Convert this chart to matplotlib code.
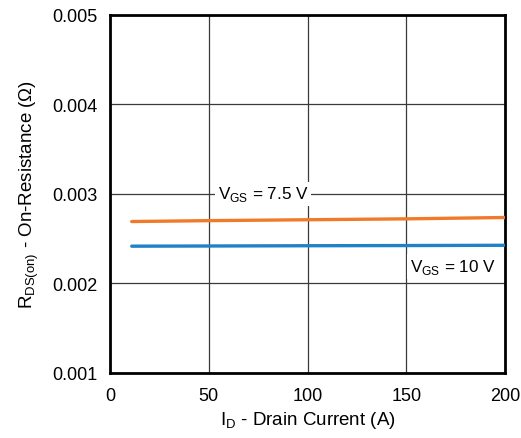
import matplotlib.pyplot as plt

plt.rcParams["font.family"] = ["Liberation Sans", "DejaVu Sans"]
plt.rcParams["mathtext.fontset"] = "custom"
plt.rcParams["mathtext.rm"] = "Liberation Sans"

# Data
i_d = [11, 50, 100, 150, 200]
r_75 = [0.00269, 0.002700, 0.002710, 0.002720, 0.002735]
r_10 = [0.002415, 0.002417, 0.002420, 0.002422, 0.002425]
x_ticks = [0, 50, 100, 150, 200]
y_ticks = [0.001, 0.002, 0.003, 0.004, 0.005]

fig = plt.figure(figsize=(5.21, 4.39), dpi=100)
ax = fig.add_axes([110 / 521, 1 - 374 / 439, 395 / 521, 358.5 / 439])

ax.plot(i_d, r_75, color="#F07A2A", lw=2.4, solid_capstyle="round", zorder=3)
ax.plot(i_d, r_10, color="#1F82C8", lw=2.4, solid_capstyle="round", zorder=3)

ax.set_xlim(0, 200)
ax.set_ylim(0.001, 0.005)
ax.set_xticks(x_ticks)
ax.set_yticks(y_ticks)
ax.set_yticklabels([f"{v:.3f}" for v in y_ticks])
ax.grid(True, color="#3a3a3a", lw=0.9)
ax.tick_params(length=0, labelsize=13)
ax.tick_params(axis="x", pad=10)
ax.tick_params(axis="y", pad=9)
for s in ax.spines.values():
    s.set_linewidth(2)

ax.text(54.5, 0.003, r"V$_{\mathregular{GS}}$ = 7.5 V", fontsize=12.3, va="center",
        ha="left", bbox=dict(facecolor="white", edgecolor="none", pad=2), zorder=4)
ax.text(152, 0.00219, r"V$_{\mathregular{GS}}$ = 10 V", fontsize=12.3, va="center",
        ha="left", bbox=dict(facecolor="white", edgecolor="none", pad=2), zorder=4)

ax.set_xlabel(r"I$_{\mathregular{D}}$ - Drain Current (A)", fontsize=13.5, labelpad=4)
ax.set_ylabel(r"R$_{\mathregular{DS(on)}}$ - On-Resistance ($\Omega$)", fontsize=13.5,
              labelpad=8)

fig.savefig("out.png", dpi=100)
